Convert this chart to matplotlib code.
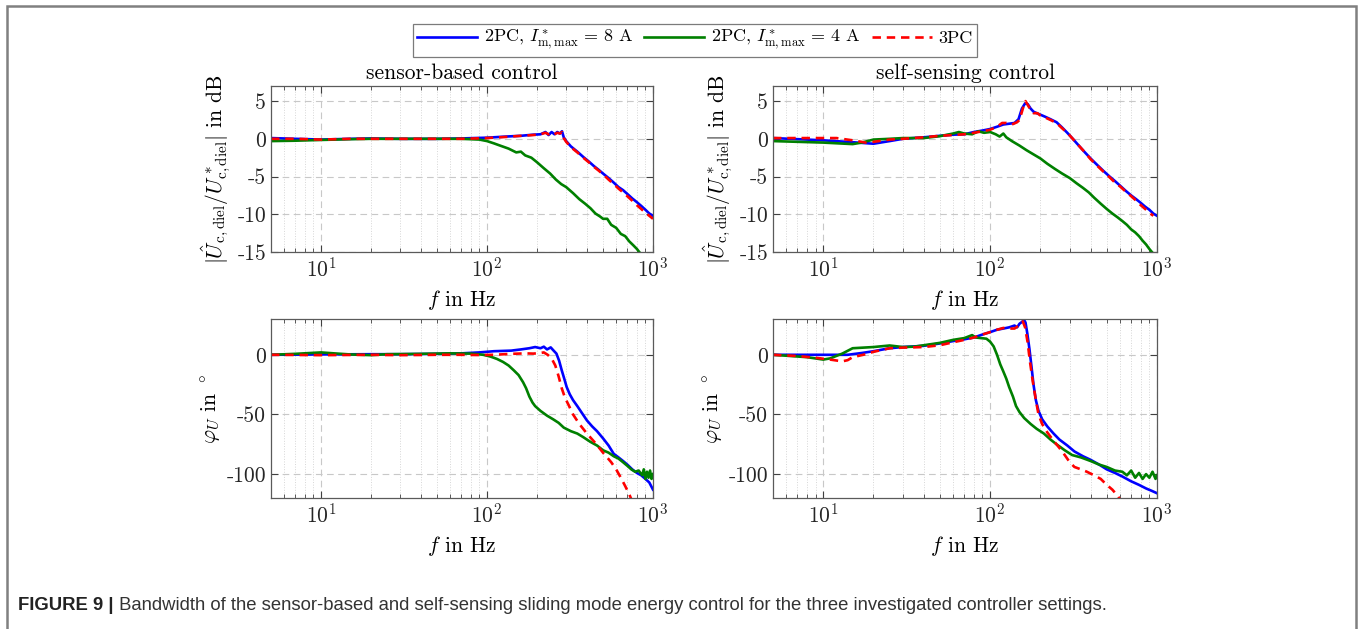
import numpy as np
import matplotlib
matplotlib.use("Agg")
import matplotlib.pyplot as plt
from matplotlib.lines import Line2D
from matplotlib.patches import Rectangle

plt.rcParams['font.family'] = 'cmr10'
plt.rcParams['mathtext.fontset'] = 'cm'
plt.rcParams['axes.formatter.use_mathtext'] = True

# ---------------- data ----------------
# sensor-based control, magnitude in dB
f_sb_mag_8A = [5, 7, 10, 15, 20, 30, 50, 70, 100, 130, 160, 190, 210, 225, 235, 245, 255, 265, 275, 283, 290, 300,
               320, 350, 380, 410, 440, 470, 500, 540, 580, 620, 660, 700, 750, 800, 850, 900, 950, 1000]
sb_mag_8A = [0.1, 0.0, -0.1, 0.0, 0.05, 0.0, 0.0, 0.05, 0.15, 0.3, 0.4, 0.55, 0.6, 0.9, 0.5, 0.9, 0.6, 0.9, 0.7, 1.0,
             0.2, -0.3, -1.0, -1.7, -2.4, -3.0, -3.6, -4.1, -4.6, -5.2, -5.8, -6.4, -6.8, -7.3, -7.9, -8.4, -8.9,
             -9.4, -9.9, -10.2]
f_sb_mag_3PC = [5, 7, 10, 15, 20, 30, 50, 70, 100, 130, 160, 190, 210, 225, 235, 245, 255, 265, 275, 283, 290, 300,
                320, 350, 380, 410, 440, 470, 500, 540, 580, 620, 660, 700, 750, 800, 850, 900, 950, 1000]
sb_mag_3PC = [0.0, 0.0, -0.1, 0.0, 0.0, 0.0, 0.0, 0.0, 0.1, 0.25, 0.4, 0.5, 0.6, 0.8, 0.6, 0.8, 0.6, 0.8, 0.7, 0.9,
              0.1, -0.4, -1.1, -1.8, -2.5, -3.1, -3.7, -4.2, -4.7, -5.4, -6.0, -6.6, -7.1, -7.6, -8.2, -8.8, -9.3,
              -9.8, -10.2, -10.6]
f_sb_mag_4A = [5, 7, 10, 15, 20, 30, 50, 70, 90, 100, 110, 120, 135, 150, 160, 170, 185, 200, 220, 240, 260, 280,
               300, 330, 360, 390, 420, 450, 480, 500, 530, 560, 600, 640, 680, 720, 760, 800, 840]
sb_mag_4A = [-0.3, -0.25, -0.15, -0.05, 0.0, 0.0, 0.0, 0.0, -0.1, -0.3, -0.6, -0.9, -1.3, -1.8, -1.7, -2.2, -2.5,
             -3.1, -3.9, -4.6, -5.4, -6.0, -6.4, -7.2, -8.0, -8.6, -9.2, -9.9, -10.3, -10.6, -10.6, -11.4, -11.8,
             -12.6, -12.9, -13.6, -14.1, -14.6, -15.2]

# self-sensing control, magnitude in dB
f_ss_mag_8A = [5, 10, 15, 20, 25, 30, 40, 50, 60, 70, 80, 90, 100, 110, 120, 130, 140, 148, 155, 162, 168, 175, 182,
               190, 200, 215, 230, 250, 270, 290, 310, 340, 370, 400, 440, 480, 520, 560, 600, 650, 700, 750, 800,
               850, 900, 950, 1000]
ss_mag_8A = [0.1, -0.2, -0.45, -0.65, -0.3, 0.0, 0.2, 0.4, 0.55, 0.6, 0.9, 1.1, 1.3, 1.6, 1.9, 2.0, 2.1, 2.6, 4.0,
             4.7, 4.6, 4.0, 3.6, 3.4, 3.2, 2.9, 2.6, 2.2, 1.5, 0.8, 0.1, -0.9, -1.8, -2.6, -3.5, -4.3, -5.0, -5.6,
             -6.2, -6.9, -7.5, -8.0, -8.5, -9.0, -9.4, -9.9, -10.2]
f_ss_mag_3PC = [5, 8, 12, 15, 18, 20, 25, 30, 40, 50, 60, 70, 80, 90, 100, 110, 118, 125, 135, 145, 150, 158, 163,
                168, 175, 182, 192, 200, 215, 230, 250, 270, 290, 310, 340, 370, 400, 440, 480, 520, 560, 600, 650,
                700, 750, 800, 850, 900, 950]
ss_mag_3PC = [0.1, 0.1, 0.1, -0.2, -0.5, -0.4, -0.1, 0.0, 0.2, 0.4, 0.5, 0.6, 0.8, 1.0, 1.2, 1.6, 2.1, 2.1, 1.9,
              2.2, 2.5, 4.2, 5.0, 4.5, 3.8, 3.4, 3.4, 3.1, 2.8, 2.5, 2.1, 1.4, 0.8, 0.1, -0.9, -1.8, -2.7, -3.6,
              -4.4, -5.1, -5.8, -6.3, -7.0, -7.6, -8.2, -8.8, -9.3, -9.8, -10.2]
f_ss_mag_4A = [5, 10, 15, 17, 20, 25, 30, 40, 50, 60, 65, 70, 78, 85, 92, 100, 108, 114, 120, 125, 135, 150, 165,
               180, 200, 220, 245, 270, 300, 330, 360, 390, 420, 460, 500, 540, 580, 620, 660, 700, 740, 780, 820,
               860, 900, 940]
ss_mag_4A = [-0.3, -0.5, -0.7, -0.5, -0.1, 0.0, 0.1, 0.1, 0.35, 0.7, 0.9, 0.7, 0.6, 1.0, 0.8, 0.9, 0.6, 0.3, 0.7,
             0.2, -0.3, -0.9, -1.5, -2.0, -2.6, -3.3, -4.0, -4.6, -5.2, -5.9, -6.5, -7.1, -7.8, -8.6, -9.3, -9.9,
             -10.4, -10.9, -11.4, -12.0, -12.4, -12.9, -13.5, -14.0, -14.6, -15.1]

# sensor-based control, phase in degrees
f_sb_ph_8A = [5, 10, 20, 30, 50, 70, 90, 110, 140, 160, 180, 195, 210, 220, 230, 242, 252, 262, 272, 282, 292, 302,
              315, 330, 350, 370, 400, 430, 460, 500, 540, 580, 620, 660, 700, 750, 800, 850, 900, 950, 1000]
sb_ph_8A = [0, 0.3, 0.5, 0.5, 0.8, 1.2, 2.0, 3.0, 3.5, 4.5, 5.5, 6.5, 5.5, 6.8, 4.5, 6.2, 3.5, 1.0, -5, -13, -20,
            -27, -33, -38, -43, -48, -55, -60, -64, -70, -76, -83, -86, -89, -92, -96, -99, -101, -104, -107, -113]
f_sb_ph_3PC = [5, 10, 20, 30, 50, 70, 90, 110, 140, 170, 190, 210, 220, 232, 245, 258, 270, 282, 295, 310, 330,
               360, 400, 450, 500, 560, 600, 640, 680, 720, 740]
sb_ph_3PC = [0, -0.3, 0, -0.3, 0, 0, -0.2, 0, 0.8, 1.2, 1.0, 1.5, 2.0, 0.0, -3.0, -9, -18, -28, -36, -42, -50,
             -58, -66, -74, -82, -90, -96, -103, -110, -117, -121]
f_sb_ph_4A = [5, 7, 10, 12, 15, 20, 25, 30, 40, 60, 80, 95, 105, 115, 125, 135, 145, 155, 165, 172, 180, 188, 195,
              210, 230, 250, 270, 290, 320, 350, 380, 420, 460, 500, 540, 580, 620, 660, 700, 740, 780, 820, 860,
              880, 900, 920, 940, 960, 980, 1000]
sb_ph_4A = [0, 0.8, 2.0, 1.2, 0.3, -0.3, 0.5, 0.6, 0.8, 1.2, 1.0, 0, -1.5, -3.5, -6, -9, -13, -17, -23, -28, -35,
            -40, -43, -47, -51, -54, -57, -61, -64, -66, -69, -73, -76, -80, -82, -85, -87, -90, -93, -96, -98,
            -97, -101, -96, -104, -98, -103, -97, -104, -100]

# self-sensing control, phase in degrees
f_ss_ph_8A = [5, 8, 11, 14, 17, 20, 25, 30, 40, 50, 60, 70, 80, 90, 100, 110, 120, 130, 140, 145, 150, 155, 160,
              163, 167, 172, 177, 182, 188, 195, 205, 220, 240, 260, 290, 320, 360, 400, 450, 500, 560, 620, 700,
              780, 860, 930, 1000]
ss_ph_8A = [0, 0, 0, 0, 1.5, 3, 5.5, 6.5, 7.5, 9.5, 11.5, 13, 14.5, 17, 19, 21, 22, 23, 24.5, 23, 26, 27.5, 29, 27,
            18, 5, -10, -25, -38, -47, -54, -60, -66, -71, -76, -81, -85, -88, -92, -96, -99, -102, -106, -109,
            -112, -114, -116]
f_ss_ph_3PC = [5, 7, 9, 11, 13, 14, 15, 18, 20, 25, 30, 40, 50, 60, 70, 80, 90, 100, 110, 120, 130, 140, 150, 157,
               162, 168, 173, 180, 188, 195, 205, 220, 240, 260, 280, 300, 320, 350, 380, 420, 460, 500, 540, 580,
               600]
ss_ph_3PC = [0, -1, -2.5, -4, -5.5, -4.5, -2, 0.5, 2.5, 5.5, 6, 6.5, 8, 10.5, 12.5, 14.5, 17, 19, 21, 22.5, 22, 22,
             25, 28, 23, 10, -5, -22, -38, -50, -58, -65, -72, -78, -84, -90, -94, -96, -98, -101, -104, -109,
             -113, -118, -121]
f_ss_ph_4A = [5, 8, 10, 11, 13, 15, 20, 25, 30, 35, 40, 50, 60, 70, 78, 82, 88, 95, 100, 105, 110, 115, 120, 125,
              130, 137, 143, 150, 160, 175, 190, 210, 230, 250, 280, 310, 350, 400, 450, 500, 560, 620, 660, 700,
              740, 780, 820, 860, 900, 940, 980, 1000]
ss_ph_4A = [0, -2, -4, -3, 1, 5.5, 6.5, 7.8, 6.5, 6.8, 8, 10, 12.5, 14, 16.5, 14.5, 14, 13.5, 11, 7, 0, -8, -14,
            -20, -27, -35, -43, -48, -53, -58, -62, -66, -71, -75, -80, -84, -86, -89, -92, -94, -97, -98, -101,
            -97, -103, -99, -104, -100, -103, -98, -104, -101]

legend_labels = [r'2PC, $I^*_{\mathrm{m,max}}\,=\,8$ A', r'2PC, $I^*_{\mathrm{m,max}}\,=\,4$ A', '3PC']
titles = ['sensor-based control', 'self-sensing control']
mag_ticks = [-15, -10, -5, 0, 5]
ph_ticks = [-100, -50, 0]

c_blue = '#0000ff'
c_green = '#008000'
c_red = '#ff0000'

W, H = 1360, 629
fig = plt.figure(figsize=(W / 100, H / 100), dpi=100)


def make_ax(left, top, right, bottom):
    return fig.add_axes([left / W, 1 - bottom / H, (right - left) / W, (bottom - top) / H])


ax_tl = make_ax(271, 86, 653, 252)
ax_tr = make_ax(773, 86, 1157, 252)
ax_bl = make_ax(271, 319, 653, 498)
ax_br = make_ax(773, 319, 1157, 498)

panels = [
    (ax_tl, (f_sb_mag_8A, sb_mag_8A), (f_sb_mag_4A, sb_mag_4A), (f_sb_mag_3PC, sb_mag_3PC)),
    (ax_tr, (f_ss_mag_8A, ss_mag_8A), (f_ss_mag_4A, ss_mag_4A), (f_ss_mag_3PC, ss_mag_3PC)),
    (ax_bl, (f_sb_ph_8A, sb_ph_8A), (f_sb_ph_4A, sb_ph_4A), (f_sb_ph_3PC, sb_ph_3PC)),
    (ax_br, (f_ss_ph_8A, ss_ph_8A), (f_ss_ph_4A, ss_ph_4A), (f_ss_ph_3PC, ss_ph_3PC)),
]

for ax, s8, s4, s3 in panels:
    ax.plot(s8[0], s8[1], color=c_blue, lw=1.9)
    ax.plot(s4[0], s4[1], color=c_green, lw=1.9)
    ax.plot(s3[0], s3[1], color=c_red, lw=1.9, ls=(0, (3.2, 2.2)))
    ax.set_xscale('log')
    ax.set_xlim(5, 1000)
    ax.grid(True, which='major', color='#c8c8c8', ls=(0, (6, 4)), lw=0.8)
    ax.grid(True, which='minor', axis='x', color='#d6d6d6', ls=':', lw=0.7)
    ax.tick_params(which='both', direction='in', top=True, right=True, colors='#404040',
                   labelcolor='#262626', labelsize=15.5)
    ax.tick_params(which='major', length=5)
    ax.tick_params(which='minor', length=3)
    for sp in ax.spines.values():
        sp.set_color('#5a5a5a')
        sp.set_linewidth(0.9)
    ax.set_xlabel(r'$f$ in Hz', fontsize=15.5, labelpad=5)
    ax.set_axisbelow(True)

for ax in (ax_tl, ax_tr):
    ax.set_ylim(-15, 7)
    ax.set_yticks(mag_ticks)
    ax.set_yticklabels([str(t) for t in mag_ticks])
    ax.set_ylabel(r'$|\hat{U}_{\mathrm{c,diel}}/U^*_{\mathrm{c,diel}}|$ in dB', fontsize=15.5, labelpad=3)

for ax in (ax_bl, ax_br):
    ax.set_ylim(-120, 30)
    ax.set_yticks(ph_ticks)
    ax.set_yticklabels([str(t) for t in ph_ticks])
    ax.set_ylabel(r'$\varphi_U$ in $^\circ$', fontsize=15.5, labelpad=3)

ax_tl.set_title(titles[0], fontsize=15.5, pad=5)
ax_tr.set_title(titles[1], fontsize=15.5, pad=5)

handles = [Line2D([], [], color=c_blue, lw=1.9),
           Line2D([], [], color=c_green, lw=1.9),
           Line2D([], [], color=c_red, lw=1.9, ls=(0, (3.2, 2.2)))]
leg = fig.legend(handles, legend_labels, loc='lower center', bbox_to_anchor=(695 / W, 1 - 57 / H), ncol=3,
                 fontsize=13, frameon=True, fancybox=False, edgecolor='#5a5a5a', handlelength=3.3,
                 handletextpad=0.4, columnspacing=0.6, borderpad=0.25, borderaxespad=0)
leg.get_frame().set_linewidth(0.9)

# outer frame and caption
fig.patches.append(Rectangle((7 / W, -0.05), 1349 / W, 1 - 6 / H + 0.05, transform=fig.transFigure,
                             fill=False, edgecolor='#808080', lw=1.8))
cap_font = ['Liberation Sans', 'DejaVu Sans']
t1 = fig.text(18 / W, 1 - 605 / H, 'FIGURE 9 |', fontsize=13.3, fontweight='bold', family=cap_font,
              color='#222222', va='center')
ax_tl.annotate(' Bandwidth of the sensor-based and self-sensing sliding mode energy control for the three '
               'investigated controller settings.', xy=(1, 0.5), xycoords=t1, va='center', ha='left',
               fontsize=13.3, family=cap_font, color='#333333', annotation_clip=False)

fig.savefig('out.png', dpi=100)
